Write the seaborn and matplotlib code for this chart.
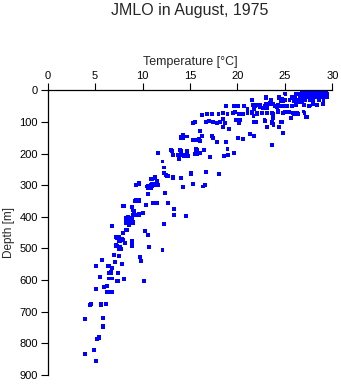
import matplotlib
matplotlib.use("Agg")
import matplotlib.pyplot as plt
import seaborn as sns
import pandas as pd

# Surface layer samples (dense bars near the surface)
surf_temp_0 = [26.8, 27.0, 27.2, 27.4, 27.6, 27.8, 28.0, 28.2, 28.4, 28.6, 28.8, 29.0, 29.2, 29.3]
surf_depth_0 = [1] * len(surf_temp_0)
surf_temp_12 = [26.2, 26.4, 26.6, 26.8, 27.0, 27.2, 27.4, 27.6, 27.8, 28.0, 28.2, 28.4, 28.6, 28.8, 29.0, 29.2, 29.4]
surf_depth_12 = [12] * len(surf_temp_12)
surf_temp_20 = [26.6, 26.8, 27.0, 27.2, 27.4, 27.6, 27.8, 28.0, 28.2, 28.4, 28.6, 28.8, 29.0, 29.2, 29.4]
surf_depth_20 = [21] * len(surf_temp_20)

# Individual profile samples
temp = [
    3.93, 3.97, 5.13, 4.92, 5.16, 5.41, 5.36, 5.80, 5.87, 5.87, 4.49, 5.62, 6.18,
    5.13, 6.26, 6.71, 5.97, 6.22, 5.55, 5.13, 5.76, 6.43, 6.68, 6.50, 6.50, 6.75,
    6.81, 7.10, 7.03, 7.56, 7.87, 7.45, 7.34, 8.05, 7.20, 7.28, 7.63, 7.52, 7.28,
    7.52, 7.63, 7.87, 8.19, 7.90, 8.26, 8.93, 8.93, 6.78, 9.77, 9.88, 10.30, 10.58,
    10.72, 10.16, 12.10, 12.24,
    11.60, 12.10, 12.30, 12.30, 12.45, 12.60, 11.56, 11.30, 11.00, 11.56, 11.30,
    11.00, 10.58, 10.58, 10.86, 10.97, 9.63, 9.31, 10.58, 12.33, 11.30, 11.53,
    12.72, 9.28, 9.66, 10.33, 8.05, 9.03, 9.45, 9.66, 10.08, 8.96, 8.43, 8.82,
    8.26, 8.50, 8.26, 8.65, 9.00, 12.30, 8.61, 8.33, 9.03,
    13.00, 13.19, 13.96, 14.13, 13.74, 14.37, 14.72, 14.66, 15.64, 15.64, 16.06,
    15.54, 15.78, 16.52, 17.15, 18.57, 19.02, 18.95, 19.68, 13.25, 14.06, 15.15,
    16.70, 18.10, 14.30, 15.36, 16.41, 16.62, 13.32, 13.32, 14.59,
    14.06, 14.30, 14.66, 14.30, 15.30, 15.78, 16.06, 15.99, 16.30, 17.30, 17.41,
    17.83, 18.78, 20.07, 20.57, 21.34, 21.76, 23.66, 16.10, 15.30, 15.54, 16.66,
    17.05, 17.47, 17.83, 18.17, 18.52, 18.71, 19.09, 18.46, 19.83, 20.29, 20.18,
    21.76, 21.97, 22.92, 23.10, 23.63, 23.80, 24.43, 24.68, 24.85,
    16.30, 16.84, 17.30, 18.00, 18.52, 18.95, 19.51, 19.79, 20.21, 20.63, 21.06,
    21.48, 21.69, 22.11, 22.61, 23.10, 23.73, 24.32, 25.00, 25.49, 25.98, 26.40,
    26.96, 27.07, 27.32, 25.66,
    18.81, 19.68, 20.10, 20.71, 21.06, 21.62, 21.97, 22.40, 22.68, 23.10, 23.03,
    23.45, 23.56, 23.98, 24.32, 24.58, 24.93, 25.28, 25.74, 26.19, 27.04, 27.60,
    27.96, 28.38, 29.01,
    21.52, 23.03, 23.52, 24.43, 24.72, 25.07, 25.04, 25.49, 25.70, 26.09, 26.27,
    26.69, 27.14, 27.60, 28.02, 28.55, 29.07, 26.27, 26.43, 26.80,
    14.06, 13.08, 13.78, 14.06, 14.30, 14.66, 14.77, 13.88, 15.72, 15.64, 11.67,
    12.66, 11.32, 10.90, 13.19, 15.12,
    11.56, 11.67, 11.32, 10.97, 10.50, 10.86, 10.61, 9.31, 9.66, 10.61, 9.24,
    9.66, 11.50, 11.14, 10.37, 7.98, 8.93, 9.10, 10.02, 9.66, 9.45, 8.50, 8.86,
    8.26, 8.68, 8.33, 9.03, 8.61, 6.75, 12.27, 7.90, 8.33, 7.20, 7.52, 7.87,
    10.61, 7.56, 7.90, 8.19, 7.20, 7.63, 7.70, 8.93, 8.93, 10.61, 10.72, 12.10,
    5.10, 6.40, 6.64, 7.38, 6.33, 6.75, 4.53, 5.66,
    25.04, 21.50, 23.03, 23.52, 23.80, 23.40, 24.43, 24.57, 24.85, 25.74, 26.00,
    22.90, 21.87, 22.40, 21.70, 24.15, 24.85, 27.04, 27.56, 27.96, 28.38, 29.00,
    21.50, 22.04, 22.57, 23.63, 24.32, 24.85, 25.38, 25.84, 26.27, 21.69, 23.70,
    25.63, 27.24, 21.76, 22.85, 23.66, 23.80, 24.61,
]
depth = [
    723, 834, 855, 820, 785, 780, 784, 748, 744, 720, 679, 679, 676,
    628, 637, 637, 622, 619, 590, 555, 536, 554, 575, 578, 595, 595,
    562, 543, 521, 523, 548, 578, 604, 597, 488, 493, 496, 502, 467,
    464, 477, 473, 483, 452, 443, 476, 489, 430, 527, 539, 445, 458,
    494, 604, 505, 422,
    198, 225, 244, 262, 267, 271, 285, 276, 281, 297, 296,
    297, 302, 307, 299, 304, 295, 300, 328, 325, 356, 357,
    356, 346, 346, 363, 365, 380, 393, 393, 389, 394, 399, 404,
    404, 409, 420, 420, 415, 422, 425, 418, 418,
    189, 204, 190, 204, 204, 207, 208, 192, 186, 194, 199,
    201, 203, 189, 210, 208, 204, 186, 197, 276, 278, 264,
    259, 264, 305, 297, 304, 299, 376, 395, 396,
    148, 150, 146, 142, 157, 157, 160, 155, 143, 144, 151,
    164, 163, 152, 154, 139, 144, 174, 128, 102, 101, 101,
    96, 99, 104, 99, 92, 102, 123, 117, 95, 94, 104,
    101, 101, 96, 116, 101, 107, 117, 101, 136,
    79, 76, 76, 76, 73, 76, 73, 70, 76, 74, 71,
    72, 81, 75, 73, 71, 75, 65, 70, 70, 74, 74,
    67, 73, 85, 88,
    50, 50, 50, 50, 60, 46, 46, 46, 56, 56, 43,
    43, 33, 50, 46, 50, 50, 50, 50, 45, 46, 48,
    44, 48, 44,
    31, 21, 31, 21, 28, 12, 31, 31, 20, 20, 31,
    31, 31, 31, 31, 31, 31, 13, 38, 38,
    152, 191, 204, 192, 204, 194, 207, 218, 189, 202, 199,
    271, 275, 281, 275, 262,
    289, 299, 299, 299, 304, 309, 309, 299, 294, 328, 349,
    349, 357, 355, 362, 365, 369, 381, 389, 392, 394, 399, 404,
    407, 412, 418, 418, 423, 428, 422, 452, 443, 464, 464, 470,
    459, 477, 473, 483, 491, 496, 502, 476, 491, 459, 494, 504,
    555, 554, 577, 603, 638, 638, 676, 676,
    10, 32, 23, 32, 42, 41, 23, 34, 34, 24, 35,
    50, 50, 52, 60, 52, 50, 47, 50, 44, 47, 44,
    69, 73, 71, 73, 68, 71, 69, 71, 73, 81, 87,
    87, 85, 100, 94, 102, 109, 100,
]

x_ticks = [0, 5, 10, 15, 20, 25, 30]
y_ticks = [0, 100, 200, 300, 400, 500, 600, 700, 800, 900]

all_temp = surf_temp_0 + surf_temp_12 + surf_temp_20 + temp
all_depth = surf_depth_0 + surf_depth_12 + surf_depth_20 + depth
df = pd.DataFrame({"Temperature": all_temp, "Depth": all_depth})

sns.set_style("white")
plt.rcParams["font.family"] = ["Liberation Sans", "DejaVu Sans"]

fig = plt.figure(figsize=(3.41, 3.84), dpi=100)
ax = fig.add_axes([0.1399, 0.0234, 0.8346, 0.7414])

sns.scatterplot(data=df, x="Temperature", y="Depth", ax=ax, marker="s",
                s=8, color="#0000ff", linewidth=0, edgecolor="none")

ax.set_xlim(0, 30)
ax.set_ylim(900, 0)
ax.set_xticks(x_ticks)
ax.set_yticks(y_ticks)
ax.xaxis.tick_top()
ax.xaxis.set_label_position("top")
ax.set_xlabel("Temperature [°C]", fontsize=9, labelpad=4)
ax.set_ylabel("Depth [m]", fontsize=8.5, labelpad=3)
ax.tick_params(axis="both", which="major", labelsize=8, length=5, width=0.8,
               direction="out", color="black", labelcolor="black", pad=2)
ax.tick_params(axis="x", top=True, bottom=False)
ax.tick_params(axis="y", left=True, right=False)
for side in ["right", "bottom"]:
    ax.spines[side].set_visible(False)
for side in ["left", "top"]:
    ax.spines[side].set_visible(True)
    ax.spines[side].set_color("black")
    ax.spines[side].set_linewidth(0.9)
ax.grid(False)

fig.text(0.557, 0.973, "JMLO in August, 1975", ha="center", va="center", fontsize=11.5)

fig.savefig("out.png", dpi=100)
